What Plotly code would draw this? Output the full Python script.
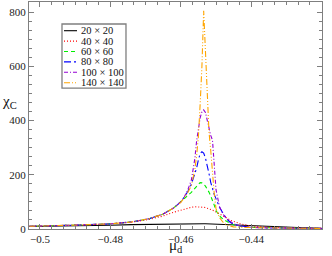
import plotly.graph_objects as go

mu = [-0.503, -0.495, -0.488, -0.480, -0.474, -0.469, -0.465, -0.462, -0.460, -0.459,
      -0.458, -0.457, -0.456, -0.4555, -0.455, -0.4545, -0.454, -0.4535, -0.453, -0.4525,
      -0.452, -0.4515, -0.451, -0.4505, -0.450, -0.449, -0.448, -0.447, -0.446, -0.445,
      -0.443, -0.440, -0.435, -0.430, -0.425, -0.420]

chi_20 = [9, 10, 12, 14, 16, 17.5, 18.5, 19.5, 20, 20,
          20, 20, 20, 20, 20, 19.8, 19.6, 19.5, 19.3, 19,
          18.8, 18.5, 18.3, 18, 17.7, 17, 16.3, 15.6, 15, 14.3,
          13, 11, 8, 6, 4.5, 3]
chi_40 = [10, 12, 15, 19, 25, 35, 48, 62, 70, 74,
          77, 80, 82, 82, 82, 81.5, 81, 80, 79, 77,
          75, 73, 70, 67, 63, 55, 47, 40, 33, 28,
          19, 11, 6, 4, 3, 2.5]
chi_60 = [10, 12, 15, 19, 26, 38, 55, 78, 100, 110,
          122, 135, 150, 158, 166, 171, 170, 166, 158, 148,
          136, 122, 108, 88, 68, 48, 36, 27, 21, 16,
          10, 6, 4, 3, 2.5, 2]
chi_80 = [10, 12, 15, 19, 26, 38, 55, 78, 100, 118,
          138, 165, 200, 225, 255, 278, 285, 280, 262, 238,
          205, 172, 148, 127, 112, 80, 58, 38, 25, 18,
          11, 6, 4, 3, 2.5, 2]
chi_100 = [10, 12, 15, 19, 26, 38, 55, 78, 100, 118,
           145, 180, 260, 325, 370, 410, 432, 439, 430, 400,
           365, 345, 328, 230, 145, 82, 55, 38, 27, 19,
           11, 6, 4, 3, 2.5, 2]
chi_140 = [10, 12, 15, 19, 26, 38, 55, 78, 98, 115,
           135, 160, 220, 270, 340, 460, 598, 805, 660, 560,
           360, 290, 200, 130, 75, 42, 25, 15, 11, 8,
           6, 5, 4, 3, 2.5, 2]

labels = ["20 × 20", "40 × 40", "60 × 60", "80 × 80", "100 × 100", "140 × 140"]
series = [chi_20, chi_40, chi_60, chi_80, chi_100, chi_140]
colors = ["#000000", "#ff0000", "#00ee00", "#0000ff", "#9400d3", "#ffa500"]
dashes = ["solid", "1px,2px", "4px,3px", "7px,3px,2px,3px", "4px,2px,1px,2px",
          "6px,2px,1px,2px,1px,2px"]

x_ticks = [-0.5, -0.48, -0.46, -0.44, -0.42]
x_ticklabels = ["−0.5", "−0.48", "−0.46", "−0.44", "−0.42"]
y_ticks = [0, 200, 400, 600, 800]

fig = go.Figure()
for lab, ys, c, d in zip(labels, series, colors, dashes):
    fig.add_trace(go.Scatter(x=mu, y=ys, mode="lines", name=lab, showlegend=False,
                             line=dict(color=c, width=1.1, dash=d)))

font = "Liberation Serif, Times New Roman, serif"
axcol = "#7f7f7f"
axis_common = dict(showline=True, mirror="allticks", linecolor=axcol, linewidth=1.3,
                   ticks="inside", ticklen=5, tickcolor=axcol, tickwidth=1,
                   showgrid=False, zeroline=False,
                   tickfont=dict(family=font, size=11, color="#222222"))
fig.update_xaxes(range=[-0.5031, -0.4199], tickvals=x_ticks, ticktext=x_ticklabels,
                 minor=dict(ticks="inside", ticklen=3, tick0=-0.5, dtick=0.02 / 6,
                            tickcolor=axcol, showgrid=False),
                 **axis_common)
fig.update_yaxes(range=[0, 837], tickvals=y_ticks,
                 minor=dict(ticks="inside", ticklen=3, tick0=0, dtick=200 / 6,
                            tickcolor=axcol, showgrid=False),
                 **axis_common)

# legend box drawn in paper coordinates
lx0, lx1, ly0, ly1 = 0.1126, 0.331, 0.621, 0.903
shapes = [dict(type="rect", xref="paper", yref="paper", x0=lx0, x1=lx1, y0=ly0, y1=ly1,
               line=dict(color=axcol, width=1.3), fillcolor="white", layer="above")]
annotations = []
row_px = [30.7, 41.1, 51.5, 61.9, 72.3, 82.7]
for lab, c, d, rp in zip(labels, colors, dashes, row_px):
    yp = (229 - rp) / 227
    shapes.append(dict(type="line", xref="paper", yref="paper",
                       x0=(64 - 29) / 293, x1=(77 - 29) / 293, y0=yp, y1=yp,
                       line=dict(color=c, width=1.1, dash=d), layer="above"))
    annotations.append(dict(xref="paper", yref="paper", x=(80 - 29) / 293, y=yp,
                            text=lab, showarrow=False, xanchor="left", yanchor="middle",
                            borderpad=0,
                            font=dict(family=font, size=10.5, color="#111111")))

annotations.append(dict(xref="paper", yref="paper", x=0.502, y=-0.03, text="μ<sub>d</sub>",
                        showarrow=False, xanchor="center", yanchor="top", borderpad=0,
                        font=dict(family=font, size=15, color="#111111")))
annotations.append(dict(xref="paper", yref="paper", x=-0.068, y=0.56, text="χ<sub>C</sub>",
                        showarrow=False, xanchor="center", yanchor="middle", borderpad=0,
                        font=dict(family=font, size=15, color="#111111")))

fig.update_layout(width=332, height=256, margin=dict(l=29, r=10, t=2, b=27),
                  paper_bgcolor="white", plot_bgcolor="white",
                  shapes=shapes, annotations=annotations, showlegend=False)

fig.write_html("out.html", config={"displayModeBar": False},
               post_script="document.body.style.margin='0';")
